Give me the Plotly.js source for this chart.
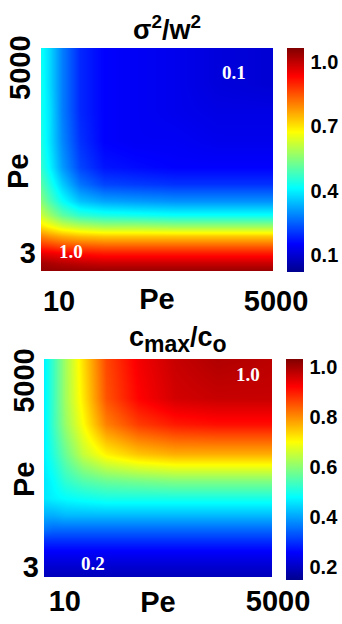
<!DOCTYPE html>
<html><head><meta charset="utf-8">
<script src="https://cdn.plot.ly/plotly-3.0.1.min.js"></script>
<style>html,body{margin:0;padding:0;background:#fff}#g{width:342px;height:624px}</style>
</head><body><div id="g"></div>
<script>
// Péclet number grid (log-spaced)
const peX = [6.5, 8.5, 12, 20, 40, 100, 300, 1000, 5000];
const peY = [1.4, 2, 3, 4, 6, 9, 14, 25, 50, 100, 300, 1000, 3000, 14500];

// sigma^2 / w^2 (rows follow peY, columns follow peX)
const sigmaRatio = [
  [1.05, 1.05, 1.05, 1.05, 1.05, 1.05, 1.05, 1.05, 1.05],
  [1.03, 1.02, 1.01, 1.00, 0.99, 0.99, 0.99, 0.99, 0.99],
  [0.96, 0.95, 0.94, 0.92, 0.91, 0.91, 0.91, 0.91, 0.91],
  [0.89, 0.88, 0.86, 0.85, 0.84, 0.84, 0.84, 0.84, 0.84],
  [0.80, 0.78, 0.76, 0.74, 0.73, 0.73, 0.73, 0.73, 0.73],
  [0.70, 0.67, 0.63, 0.60, 0.58, 0.58, 0.57, 0.57, 0.57],
  [0.62, 0.57, 0.51, 0.46, 0.44, 0.43, 0.42, 0.42, 0.42],
  [0.55, 0.49, 0.42, 0.35, 0.32, 0.31, 0.30, 0.30, 0.30],
  [0.50, 0.44, 0.36, 0.27, 0.22, 0.21, 0.20, 0.20, 0.20],
  [0.46, 0.40, 0.31, 0.22, 0.17, 0.16, 0.15, 0.15, 0.15],
  [0.44, 0.38, 0.29, 0.20, 0.15, 0.14, 0.14, 0.13, 0.13],
  [0.43, 0.38, 0.28, 0.19, 0.15, 0.14, 0.13, 0.12, 0.12],
  [0.43, 0.37, 0.28, 0.19, 0.15, 0.14, 0.13, 0.11, 0.10],
  [0.42, 0.37, 0.28, 0.19, 0.15, 0.14, 0.13, 0.11, 0.10]
];

// c_max / c_o
const cRatio = [
  [0.18, 0.18, 0.18, 0.18, 0.18, 0.18, 0.18, 0.18, 0.18],
  [0.19, 0.19, 0.19, 0.19, 0.19, 0.19, 0.19, 0.19, 0.19],
  [0.21, 0.21, 0.21, 0.21, 0.21, 0.21, 0.21, 0.21, 0.21],
  [0.23, 0.23, 0.23, 0.23, 0.23, 0.23, 0.23, 0.23, 0.23],
  [0.26, 0.26, 0.26, 0.26, 0.26, 0.26, 0.26, 0.26, 0.26],
  [0.30, 0.30, 0.30, 0.30, 0.30, 0.30, 0.30, 0.30, 0.30],
  [0.36, 0.35, 0.35, 0.35, 0.35, 0.35, 0.35, 0.35, 0.35],
  [0.41, 0.41, 0.42, 0.42, 0.42, 0.42, 0.42, 0.42, 0.42],
  [0.46, 0.47, 0.48, 0.49, 0.50, 0.50, 0.50, 0.50, 0.50],
  [0.46, 0.48, 0.52, 0.55, 0.57, 0.58, 0.59, 0.59, 0.59],
  [0.47, 0.51, 0.57, 0.65, 0.71, 0.75, 0.77, 0.77, 0.77],
  [0.47, 0.53, 0.61, 0.70, 0.81, 0.87, 0.90, 0.91, 0.91],
  [0.47, 0.53, 0.62, 0.72, 0.85, 0.92, 0.96, 0.97, 0.97],
  [0.47, 0.53, 0.62, 0.73, 0.86, 0.93, 0.97, 0.99, 0.98]
];

// tick labels
const xTickVals = [10, 5000], xTickText = ['10', '5000'];
const yLowVal = [3], yLowText = ['3'];
const yHighVal = [5000], yHighText = ['5000'];
const cb1Vals = [0.1, 0.4, 0.7, 1.0], cb1Text = ['0.1', '0.4', '0.7', '1.0'];
const cb2Vals = [0.2, 0.4, 0.6, 0.8, 1.0], cb2Text = ['0.2', '0.4', '0.6', '0.8', '1.0'];
const cornerLabels1 = ['0.1', '1.0'];
const cornerLabels2 = ['1.0', '0.2'];
const axisTitle = 'Pe';

const jet = [[0,'rgb(0,0,143)'],[0.125,'rgb(0,0,255)'],[0.375,'rgb(0,255,255)'],
             [0.625,'rgb(255,255,0)'],[0.875,'rgb(255,0,0)'],[1,'rgb(128,0,0)']];
const W = 342, H = 624;
const px = v => v / W, py = v => 1 - v / H;
const FONT = 'Liberation Sans, Arial, sans-serif';
const SERIF = 'Liberation Serif, Times New Roman, serif';
const big = {family: FONT, size: 29, color: '#000', weight: 'bold'};
const cbFont = {family: FONT, size: 20, color: '#000', weight: 'bold'};
const inFont = {family: SERIF, size: 19, color: '#fff', weight: 'bold'};
const L = Math.log10;

function cbar(top, bottom, left, vals, text) {
  return {x: px(left), xanchor: 'left', xpad: 0, ypad: 0, y: py(top), yanchor: 'top',
    len: (bottom - top) / H, lenmode: 'fraction', thickness: 17, thicknessmode: 'pixels',
    outlinewidth: 0, tickvals: vals, ticktext: text, tickfont: cbFont,
    ticks: 'outside', ticklen: 3, tickcolor: 'rgba(255,255,255,0)'};
}

const traces = [
  {type: 'heatmap', x: peX, y: peY, z: sigmaRatio, xaxis: 'x', yaxis: 'y',
   zsmooth: 'best', colorscale: jet, zmin: 0.02, zmax: 1.065, hoverinfo: 'skip',
   colorbar: cbar(48, 272, 287, cb1Vals, cb1Text)},
  {type: 'heatmap', x: peX, y: peY, z: cRatio, xaxis: 'x2', yaxis: 'y2',
   zsmooth: 'best', colorscale: jet, zmin: 0.148, zmax: 1.032, hoverinfo: 'skip',
   colorbar: cbar(359, 580, 286, cb2Vals, cb2Text)}
];
// empty helper traces so the overlay label axes get drawn
[['x3','y'],['x','y3'],['x','y5'],['x4','y2'],['x2','y4'],['x2','y6']].forEach(function(p){
  traces.push({type: 'scatter', mode: 'markers', x: [], y: [], xaxis: p[0], yaxis: p[1], hoverinfo: 'skip', showlegend: false});
});

const xr = [L(6.5), L(5000)];
const yr1 = [L(1.43), L(13400)];
const yr2 = [L(2.0), L(14400)];
const d1x = [px(41), px(273)], d1y = [py(271), py(48)];
const d2x = [px(44), px(272)], d2y = [py(577), py(359)];
const base = {type: 'log', showgrid: false, zeroline: false, showline: false, ticks: '', automargin: false, fixedrange: true};

function note(text, x, y, font, extra) {
  return Object.assign({text: text, xref: 'paper', yref: 'paper', x: px(x), y: py(y),
    xanchor: 'center', yanchor: 'middle', showarrow: false, font: font}, extra || {});
}

const layout = {
  width: W, height: H, margin: {l: 0, r: 0, t: 0, b: 0},
  paper_bgcolor: '#fff', plot_bgcolor: '#fff', showlegend: false,
  font: {family: FONT, color: '#000'},
  title: {text: 'σ<sup>2</sup>/w<sup>2</sup>', x: px(167), xanchor: 'center', xref: 'paper',
          y: py(30), yanchor: 'middle', yref: 'paper', font: {family: FONT, size: 27, weight: 'bold'}},
  // top panel
  xaxis: Object.assign({}, base, {domain: d1x, range: xr, anchor: 'y', showticklabels: false,
          title: {text: axisTitle, font: big, standoff: 17}}),
  yaxis: Object.assign({}, base, {domain: d1y, range: yr1, anchor: 'x', showticklabels: false}),
  xaxis3: Object.assign({}, base, {overlaying: 'x', anchor: 'y', range: xr, tickvals: xTickVals, ticktext: xTickText,
          tickfont: big, ticklabelshift: 3, ticklabelstandoff: 10}),
  yaxis3: Object.assign({}, base, {overlaying: 'y', anchor: 'x', range: yr1, tickvals: yLowVal, ticktext: yLowText,
          tickfont: big, tickangle: 0, ticklabelstandoff: 4}),
  yaxis5: Object.assign({}, base, {overlaying: 'y', anchor: 'x', range: yr1, tickvals: yHighVal, ticktext: yHighText,
          tickfont: big, tickangle: -90, ticklabelstandoff: 4}),
  // bottom panel
  xaxis2: Object.assign({}, base, {domain: d2x, range: xr, anchor: 'y2', showticklabels: false,
          title: {text: axisTitle, font: big, standoff: 14}}),
  yaxis2: Object.assign({}, base, {domain: d2y, range: yr2, anchor: 'x2', showticklabels: false}),
  xaxis4: Object.assign({}, base, {overlaying: 'x2', anchor: 'y2', range: xr, tickvals: xTickVals, ticktext: xTickText,
          tickfont: big, ticklabelshift: 6, ticklabelstandoff: 4}),
  yaxis4: Object.assign({}, base, {overlaying: 'y2', anchor: 'x2', range: yr2, tickvals: yLowVal, ticktext: yLowText,
          tickfont: big, tickangle: 0, ticklabelstandoff: 4}),
  yaxis6: Object.assign({}, base, {overlaying: 'y2', anchor: 'x2', range: yr2, tickvals: yHighVal, ticktext: yHighText,
          tickfont: big, tickangle: -90, ticklabelstandoff: 3}),
  annotations: [
    note('c<sub><span style="font-size:23px">max</span></sub>/c<sub><span style="font-size:23px">o</span></sub>',
         178, 340, {family: FONT, size: 27, weight: 'bold'}),
    note(axisTitle, 18, 172, big, {textangle: -90}),
    note(axisTitle, 24, 480, big, {textangle: -90}),
    note(cornerLabels1[0], 234, 72, inFont),
    note(cornerLabels1[1], 71, 251, inFont),
    note(cornerLabels2[0], 248, 374, inFont),
    note(cornerLabels2[1], 93, 563, inFont)
  ]
};

Plotly.newPlot('g', traces, layout, {displayModeBar: false, staticPlot: true});
</script></body></html>
